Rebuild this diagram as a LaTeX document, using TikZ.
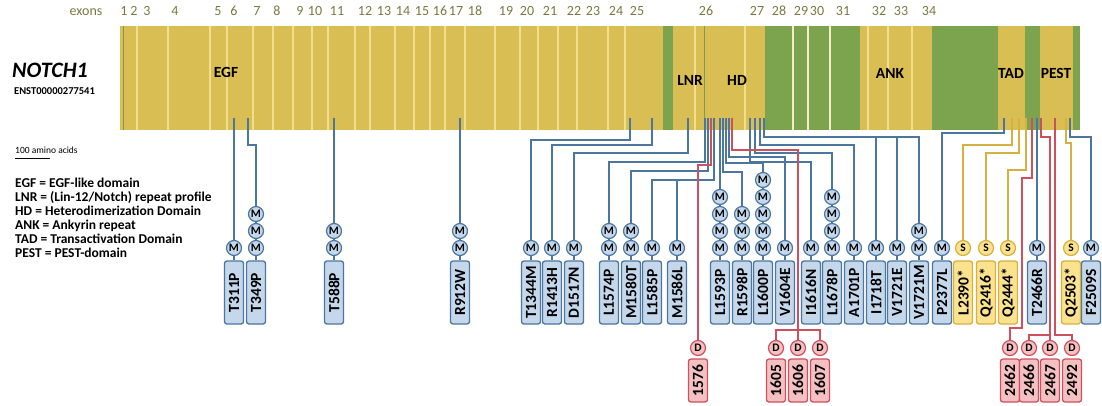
\documentclass[tikz,border=0pt]{standalone}
\usepackage{fontspec}
\setmainfont{Carlito}
\usepackage{graphicx}
\usetikzlibrary{positioning,calc}
\definecolor{egold}{RGB}{217,190,84}
\definecolor{estripe}{RGB}{242,222,140}
\definecolor{egreen}{RGB}{124,164,78}
\definecolor{exonlab}{RGB}{118,122,62}
\definecolor{mline}{RGB}{74,118,160}
\definecolor{mfill}{RGB}{196,215,235}
\definecolor{sline}{RGB}{214,176,64}
\definecolor{sfill}{RGB}{250,226,142}
\definecolor{dline}{RGB}{204,80,94}
\definecolor{dfill}{RGB}{244,192,194}

\begin{document}
\begin{tikzpicture}[x=1pt,y=-1pt,
 stripe/.style={draw=estripe,line width=1.6},
 exlab/.style={text=exonlab,font=\fontsize{14}{14}\selectfont,anchor=base,inner sep=0},
 domlab/.style={font=\bfseries\fontsize{15.5}{15.5}\selectfont,inner sep=0},
 legtxt/.style={font=\bfseries\fontsize{13.5}{14}\selectfont,anchor=base west,inner sep=0},
 mbox/.style={draw=mline,fill=mfill,rounded corners=2.5,line width=1.3,minimum width=19,minimum height=63,inner sep=0,font=\bfseries\fontsize{15.5}{16}\selectfont},
 sbox/.style={mbox,draw=sline,fill=sfill},
 dbox/.style={mbox,draw=dline,fill=dfill,minimum height=43},
 mcirc/.style={circle,draw=mline,fill=mfill,line width=1.2,minimum size=15,inner sep=0,font=\bfseries\fontsize{11.5}{11.5}\selectfont},
 scirc/.style={mcirc,draw=sline,fill=sfill},
 dcirc/.style={mcirc,draw=dline,fill=dfill},
 mlink/.style={draw=mline,line width=1.3},
 slink/.style={draw=sline,line width=1.3},
 dlink/.style={draw=dline,line width=1.3}]
\useasboundingbox (0,0) rectangle (1102,405);

% protein bar
\fill[egold] (120,26) rectangle (1080,130);
\foreach \a/\b in {663/673,765/860,932/998,1025/1040,1073/1080}
  \fill[egreen] (\a,26) rectangle (\b,130);
\foreach \x in {137,168,210,227,253,273,293,312,328,355,370,395,414,430,445,465,495,520,538,558,577,608,625,695,745,868,888,912}
  \draw[stripe] (\x,26) -- (\x,130);
\foreach \x in {793,808,830}
  \draw[stripe,draw=white!50!estripe] (\x,26) -- (\x,130);
\foreach \x in {123,704}
  \draw[draw=egreen!70!gray,line width=1] (\x,26) -- (\x,130);

% exon numbers
\node[exlab] (exons) at (86,15) {exons};
\foreach \n/\x in {1/124,2/134,3/147,4/175,5/218,6/234,7/257,8/277,9/300,10/315,11/337,12/365,13/384,14/403,15/422,16/440,17/456,18/475,19/506,20/527,21/550,22/574,23/593,24/616,25/637,26/706,27/757,28/779,29/801,30/817,31/843,32/879,33/901,34/929}
  \node[exlab] (ex\n) at (\x,15) {\n};

% domains
\node[domlab] (egf) at (226,72) {EGF};
\node[domlab] (lnr) at (690,80) {LNR};
\node[domlab] (hd) at (737,80) {HD};
\node[domlab] (ank) at (890,73) {ANK};
\node[domlab] (tad) at (1011,73) {TAD};
\node[domlab] (pest) at (1056,73) {PEST};

% gene name and legend
\node[anchor=base west,inner sep=0,font=\bfseries\itshape\fontsize{22}{22}\selectfont] (gene) at (12,77) {NOTCH1};
\node[anchor=base west,inner sep=0,font=\bfseries\fontsize{10.5}{11}\selectfont] (tr) at (14,94) {ENST00000277541};
\node[anchor=base west,inner sep=0,font=\fontsize{9.5}{10}\selectfont] (scale) at (15,153) {100 amino acids};
\draw[line width=1] (15,158) -- (50,158);
\foreach \t [count=\i] in {{EGF = EGF-like domain},{LNR = (Lin-12/Notch) repeat profile},{HD = Heterodimerization Domain},{ANK = Ankyrin repeat},{TAD = Transactivation Domain},{PEST = PEST-domain}}
  \node[legtxt] (leg\i) at (15,{187.5+14*(\i-1)}) {\t};

% mutation boxes
\def\mlist{T311P/234/1,T349P/256/3,T588P/334/2,R912W/460/2,T1344M/531/1,R1413H/552/1,D1517N/574/1,L1574P/609/2,M1580T/631/2,L1585P/652/1,M1586L/677/1,L1593P/720/4,R1598P/742/3,L1600P/763/5,V1604E/785/1,I1616N/811/1,L1678P/832/4,A1701P/854/1,I1718T/876/1,V1721E/897/1,V1721M/919/2,P2377L/942/1,T2466R/1037/1,F2509S/1091/1}
\foreach \nm/\x/\k in \mlist
  \node[mbox] (\nm) at (\x,292.5) {\rotatebox{90}{\nm}};
\foreach \nm/\x/\lab in {yL2390/963/L2390*,yQ2416/986/Q2416*,yQ2444/1008/Q2444*,yQ2503/1071/Q2503*}{
  \node[sbox] (\nm) at (\x,292.5) {\rotatebox{90}{\lab}};
  \node[scirc] (\nm-s) at (\x,248) {S};
}
\foreach \p/\x in {1576/698,1605/776,1606/798,1607/820,2462/1010,2466/1029,2467/1050,2492/1072}{
  \node[dbox] (B\p) at (\x,380.5) {\rotatebox{90}{\p}};
  \node[dcirc] (D\p) at (\x,348) {D};
}

% positions on the bar
\foreach \n/\x in {311/234,349/248,588/334,912/460,1344/630,1413/652,1517/688,1574/705,1580/708,1585/714,1593/720,1598/723,1600/726,1604/729,1616/750,1678/755,1701/760,1718/764,2377/1004,2390/1012,2416/1019,2444/1026,2466/1037,2503/1066,2509/1070}
  \coordinate (a\n) at (\x,118);
\foreach \n/\x in {1576/711,1605/732,2462/1032,2467/1041,2492/1055}
  \coordinate (q\n) at (\x,118);

% connectors
\draw[mlink] (a311) -- (T311P);
\draw[mlink] (a349) -- ++(0,27) -| (T349P);
\draw[mlink] (a588) -- (T588P);
\draw[mlink] (a912) -- (R912W);
\draw[mlink] (a1344) -- ++(0,22) -| (T1344M);
\draw[mlink] (a1413) -- ++(0,27) -| (R1413H);
\draw[mlink] (a1517) -- ++(0,35) -| (D1517N);
\draw[mlink] (a1574) -- ++(0,44) -| (L1574P);
\draw[mlink] (a1580) -- ++(0,53) -| (M1580T);
\draw[mlink] (a1585) -- ++(0,62) -| (L1585P);
\draw[mlink] (a1585) -- ++(0,62) -| (M1586L);
\draw[mlink] (a1593) -- (L1593P);
\draw[mlink] (a1598) -- ++(0,54) -| (R1598P);
\draw[mlink] (a1600) -- ++(0,45) -| (L1600P);
\draw[mlink] (a1604) -- ++(0,39) -| (V1604E);
\draw[mlink] (a1616) -- ++(0,44) -| (I1616N);
\draw[mlink] (a1678) -- ++(0,35) -| (L1678P);
\draw[mlink] (a1701) -- ++(0,27) -| (A1701P);
\draw[mlink] (a1718) -- ++(0,19) -| (I1718T);
\draw[mlink] (a1718) -- ++(0,19) -| (V1721E);
\draw[mlink] (a1718) -- ++(0,19) -| (V1721M);
\draw[mlink] (a2377) -- ++(0,15) -| (P2377L);
\draw[mlink] (a2466) -- (T2466R);
\draw[mlink] (a2509) -- ++(0,19) -| (F2509S);
\draw[slink] (a2390) -- ++(0,27) -| (yL2390-s);
\draw[slink] (a2416) -- ++(0,35) -| (yQ2416-s);
\draw[slink] (a2444) -- ++(0,52) -| (yQ2444-s);
\draw[slink] (a2503) -- ++(0,25) -| (yQ2503-s);
\draw[dlink] (q1576) -- ++(0,47) -| (D1576);
\draw[dlink] (q1605) -- ++(0,32) -| (D1606);
\draw[dlink] (D1605) -- ++(0,-18) -| (D1607);
\draw[dlink] (q2462) -- ++(0,60) -- ++(-10,0) -- ++(0,150) -| (D2462);
\draw[dlink] (q2467) -- ++(0,19) -| (D2467);
\draw[dlink] (D2466) -- ++(0,-13) -- ++(21,0);
\draw[dlink] (q2492) -- ++(0,217) -| (D2492);

% methylation-type circles above the boxes
\foreach \nm/\x/\k in \mlist
  \foreach \j in {1,...,\k}
    \node[mcirc] (\nm-m\j) at (\x,{248-17*(\j-1)}) {M};
\end{tikzpicture}
\end{document}
